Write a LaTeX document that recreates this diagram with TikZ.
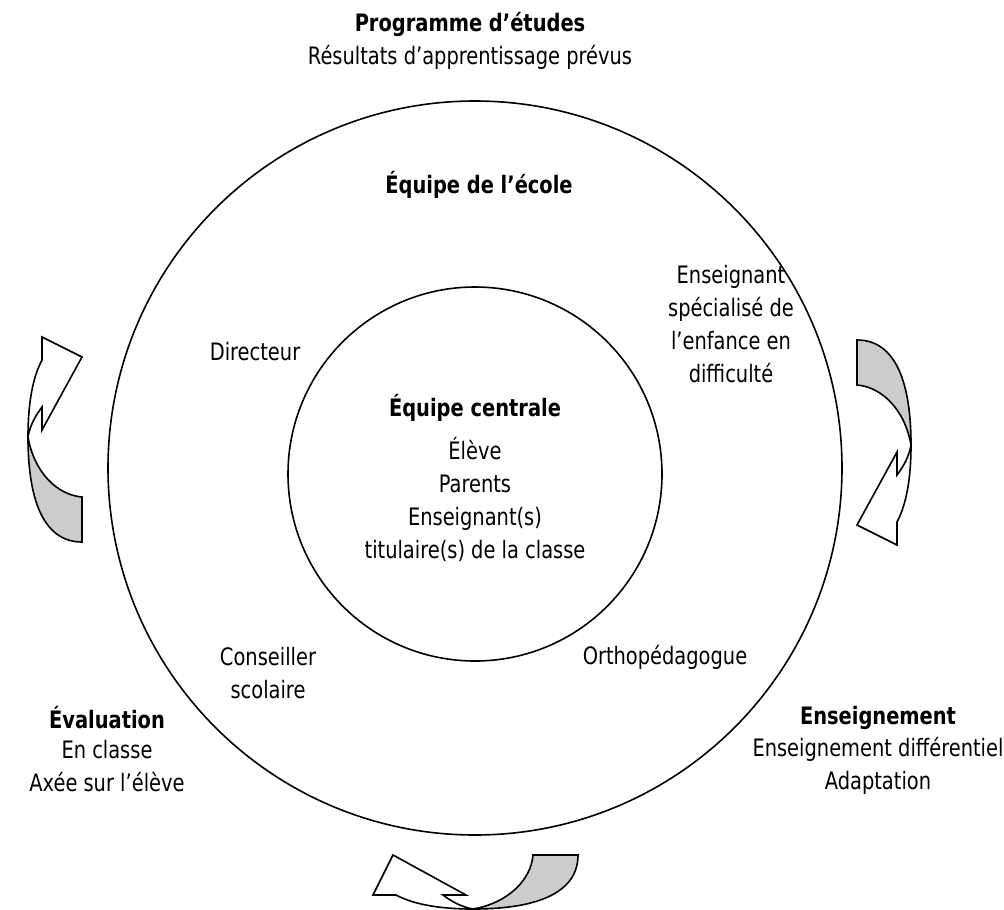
\documentclass[tikz,border=0pt]{standalone}
\usepackage{fontspec}
\setmainfont{DejaVu Sans Condensed}[FakeStretch=0.9]
\usetikzlibrary{calc}
\definecolor{shade}{RGB}{204,204,204}
\tikzset{ txt/.style = { align        = center
                       , inner sep    = 0pt
                       , font         = \fontsize{24}{33}\selectfont
                       },
          hd/.style  = { txt
                       , font         = \fontsize{24}{33}\selectfont\bfseries
                       },
          ring/.style = { draw
                        , line width  = 1.6pt
                        },
          arrowline/.style = { draw = black
                             , line width = 1.6pt
                             , line join  = miter
                             },
          curvedarrow/.pic = {
            \draw[arrowline, fill=white] (-40,-20) -- (0,0) -- (-40,73) -- (-40,50)
                .. controls (-46,58) and (-52,68) .. (-54,80)
                .. controls (-54,45) and (-49,20) .. (-40,3) -- cycle;
            \draw[arrowline, fill=shade] (-54,80)
                .. controls (-54,150) and (-35,185) .. (0,185) -- (0,140)
                .. controls (-25,138) and (-48,115) .. (-54,80) -- cycle;
          }
        }
\begin{document}
\begin{tikzpicture}[x=1pt, y=-1pt]
    \useasboundingbox (0,0) rectangle (1004,910);
    % the two teams
    \coordinate (ecole)   at (475,468);
    \coordinate (centre)  at (475,474);
    \draw[ring] (ecole)  circle [radius=367pt];
    \draw[ring] (centre) circle [radius=187pt];

    \node[hd]  (prog)  at (470,24)  {Programme d’études};
    \node[txt] (res)   at (470,57)  {Résultats d’apprentissage prévus};
    \node[hd]  (eqe)   at (479,185) {Équipe de l’école};
    \node[txt] (dir)   at (255,352) {Directeur};
    \node[txt] (spec)  at (731,324) {Enseignant\\spécialisé de\\l’enfance en\\difficulté};
    \node[hd]  (eqc)   at (475,408) {Équipe centrale};
    \node[txt] (membres) at (475,499) {Élève\\Parents\\Enseignant(s)\\titulaire(s) de la classe};
    \node[txt] (cons)  at (268,673) {Conseiller\\scolaire};
    \node[txt] (ortho) at (665,657) {Orthopédagogue};

    % the cycle
    \node[hd]  (eval)  at (107,718) {Évaluation};
    \node[txt] (evalx) at (107,766) {En classe\\Axée sur l’élève};
    \node[hd]  (ens)   at (878,718) {Enseignement};
    \node[txt] (ensx)  at (878,766) {Enseignement différentiel\\Adaptation};

    \pic at (82,357)             {curvedarrow};
    \pic[rotate=180] at (857,525) {curvedarrow};
    \pic[rotate=90]  at (393,855) {curvedarrow};
\end{tikzpicture}
\end{document}
